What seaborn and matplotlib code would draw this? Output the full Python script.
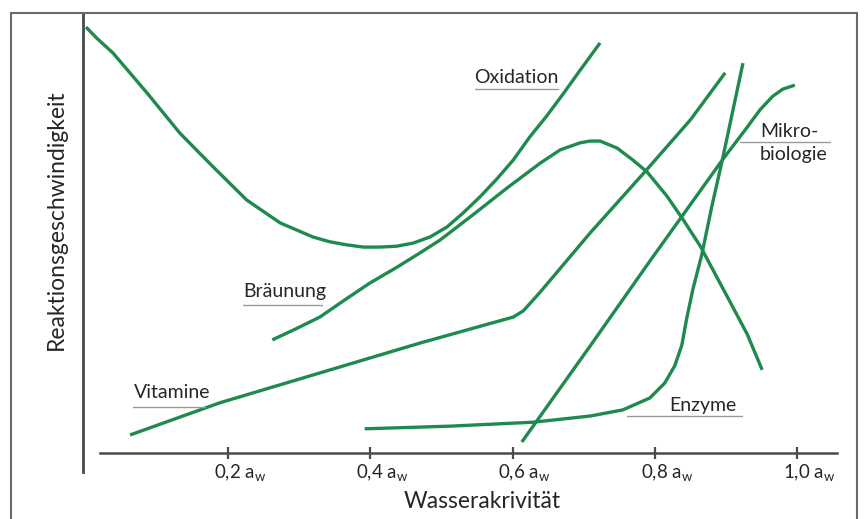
import matplotlib
matplotlib.use("Agg")
import matplotlib.pyplot as plt
import matplotlib.transforms as mtransforms
from matplotlib.patches import Rectangle
import seaborn as sns
import pandas as pd

# ---------------- data (x in a_w, y relative reaction rate) ----------------
oxid_x = [0.0, 0.015, 0.038, 0.086, 0.132, 0.179, 0.226, 0.273, 0.319, 0.343,
          0.367, 0.390, 0.413, 0.437, 0.460, 0.484, 0.508, 0.530, 0.554, 0.578,
          0.601, 0.624, 0.648, 0.671, 0.695, 0.723]
oxid_y = [96.8, 94.3, 90.9, 81.8, 72.7, 65.0, 57.5, 52.3, 49.1, 48.0,
          47.3, 46.8, 46.8, 47.0, 47.7, 49.1, 51.4, 54.5, 58.2, 62.3,
          66.6, 71.8, 76.6, 81.6, 87.0, 93.2]

braun_x = [0.262, 0.295, 0.329, 0.364, 0.399, 0.435, 0.470, 0.498, 0.544, 0.592,
           0.639, 0.667, 0.695, 0.709, 0.723, 0.747, 0.769, 0.789, 0.817, 0.840,
           0.864, 0.906, 0.930, 0.951]
braun_y = [25.7, 28.2, 30.9, 34.8, 38.6, 42.0, 45.5, 48.4, 54.1, 60.2,
           65.9, 68.9, 70.5, 70.9, 70.9, 69.3, 66.6, 63.9, 58.4, 53.0,
           47.0, 34.3, 27.0, 18.9]

vit_x = [0.062, 0.188, 0.329, 0.470, 0.601, 0.615, 0.624, 0.639, 0.709, 0.786,
         0.850, 0.899]
vit_y = [4.1, 11.4, 18.2, 25.0, 30.9, 32.3, 33.9, 36.6, 50.0, 63.9,
         75.7, 86.4]

enz_x = [0.392, 0.512, 0.629, 0.709, 0.755, 0.793, 0.814, 0.828, 0.838, 0.845,
         0.854, 0.866, 0.880, 0.895, 0.910, 0.924]
enz_y = [5.5, 6.1, 7.0, 8.4, 9.8, 12.5, 15.9, 19.8, 24.5, 30.7,
         37.5, 45.0, 55.9, 66.6, 78.0, 88.6]

mikro_x = [0.613, 0.709, 0.793, 0.895, 0.927, 0.948, 0.966, 0.980, 0.997]
mikro_y = [2.5, 24.3, 43.6, 66.6, 73.4, 78.0, 81.1, 82.7, 83.6]

tick_vals = [0.2, 0.4, 0.6, 0.8, 1.0]
tick_labels = ["0,2 a$_\\mathregular{w}$", "0,4 a$_\\mathregular{w}$",
               "0,6 a$_\\mathregular{w}$", "0,8 a$_\\mathregular{w}$",
               "1,0 a$_\\mathregular{w}$"]

xlabel = "Wasserakrivität"
ylabel = "Reaktionsgeschwindigkeit"

# ---------------- style ----------------
sns.set_theme(style="white")
plt.rcParams["font.family"] = ["Lato", "DejaVu Sans"]
plt.rcParams["mathtext.fontset"] = "custom"
plt.rcParams["mathtext.rm"] = "Lato"

GREEN = "#1f8a4e"
AXC = "#4a4a4a"
TXT = "#262626"
ULC = "#9a9a9a"

W, H = 867, 519
fig = plt.figure(figsize=(W / 100, H / 100), dpi=100)
fig.patch.set_facecolor("white")

# pixel mapping: x=0 -> 86 px, x=1 -> 797 px ; y=0 -> 453 px (from top), 1 unit = 4.4 px
ax = fig.add_axes([0, 0, 1, 1])
ax.set_facecolor("none")
ax.set_xlim(-86 / 711, (W - 86) / 711)
ax.set_ylim((453 - H) / 4.4, 453 / 4.4)

def dx(px):
    return (px - 86) / 711

def dy(py):
    return (453 - py) / 4.4

# curves
for xs, ys in [(oxid_x, oxid_y), (braun_x, braun_y), (vit_x, vit_y),
               (enz_x, enz_y), (mikro_x, mikro_y)]:
    df = pd.DataFrame({"x": xs, "y": ys})
    sns.lineplot(data=df, x="x", y="y", ax=ax, color=GREEN, lw=2.4,
                 sort=False, estimator=None, solid_capstyle="butt",
                 solid_joinstyle="round")

ax.set_xlabel("")
ax.set_ylabel("")

# spines
for s in ["top", "right"]:
    ax.spines[s].set_visible(False)
ax.spines["left"].set_position(("data", dx(83)))
ax.spines["left"].set_bounds(dy(472), dy(13))
ax.spines["left"].set_color(AXC)
ax.spines["left"].set_linewidth(2.0)
ax.spines["bottom"].set_position(("data", 0))
ax.spines["bottom"].set_bounds(dx(100), dx(837))
ax.spines["bottom"].set_color(AXC)
ax.spines["bottom"].set_linewidth(1.8)

ax.set_yticks([])
ax.set_xticks(tick_vals)
ax.set_xticklabels(tick_labels)
ax.tick_params(axis="x", direction="inout", length=8, width=1.6, color=AXC,
               pad=3, labelsize=13.5, labelcolor=TXT, bottom=True)
offset = mtransforms.ScaledTranslation(12 / 100, 0, fig.dpi_scale_trans)
for lab in ax.get_xticklabels():
    lab.set_transform(lab.get_transform() + offset)

# curve labels with underlines
FS = 14

def label(txt, cx, cy, ux0, ux1, uy, ha="center"):
    ax.text(cx, cy, txt, ha=ha, va="center", fontsize=FS, color=TXT)
    ax.plot([ux0, ux1], [uy, uy], color=ULC, lw=1.0)

label("Oxidation", dx(516), dy(77), dx(475), dx(558), dy(89))
label("Bräunung", dx(285), dy(292), dx(243), dx(322), dy(305))
label("Vitamine", dx(172), dy(393), dx(133), dx(205), dy(407))
label("Enzyme", dx(703), dy(405), dx(627), dx(742), dy(416))
ax.text(dx(760), dy(131), "Mikro-", ha="left", va="center", fontsize=FS, color=TXT)
ax.text(dx(760), dy(154), "biologie", ha="left", va="center", fontsize=FS, color=TXT)
ax.plot([dx(740), dx(830)], [dy(142), dy(142)], color=ULC, lw=1.0)

# axis titles
fig.text(482 / W, 1 - 502 / H, xlabel, ha="center", va="center",
         fontsize=16.5, color=TXT)
fig.text(56 / W, 1 - 220 / H, ylabel, ha="center", va="center",
         rotation=90, fontsize=16.5, color=TXT)

# outer frame
fig.patches.append(Rectangle((11 / W, -0.02), (857 - 11) / W, (1 - 13 / H) + 0.02,
                             transform=fig.transFigure, fill=False,
                             edgecolor="#6a6a6a", lw=1.5, zorder=10))

fig.savefig("out.png", dpi=100, facecolor="white")
